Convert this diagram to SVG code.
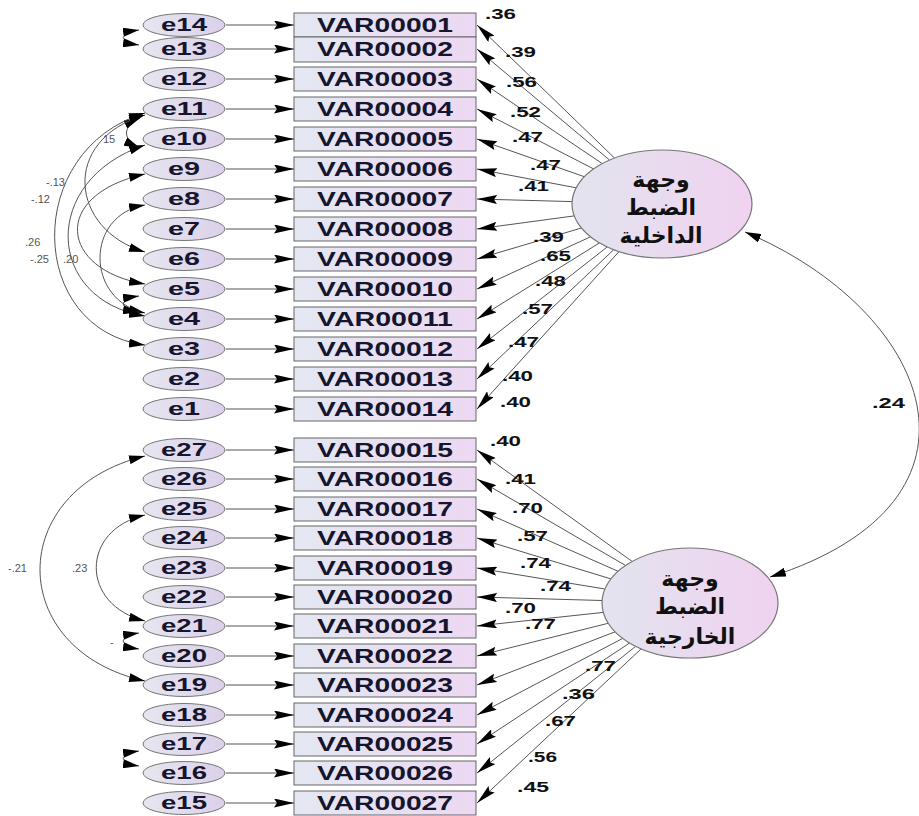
<svg xmlns="http://www.w3.org/2000/svg" width="919" height="816" viewBox="0 0 919 816">
<defs>
<linearGradient id="gBox" x1="0" y1="0" x2="1" y2="0"><stop offset="0" stop-color="#e4e8f2"/><stop offset="1" stop-color="#ecd8f2"/></linearGradient>
<linearGradient id="gErr" x1="0" y1="0" x2="1" y2="0"><stop offset="0" stop-color="#e6e6f0"/><stop offset="1" stop-color="#dcd0ea"/></linearGradient>
<linearGradient id="gLat" x1="0" y1="0" x2="1" y2="0"><stop offset="0" stop-color="#e2e4ee"/><stop offset="1" stop-color="#f0d2f0"/></linearGradient>
<marker id="ah" viewBox="0 0 20 9" refX="20" refY="4.5" markerWidth="20" markerHeight="9" markerUnits="userSpaceOnUse" orient="auto"><path d="M0,0 L20,4.5 L0,9 L3,4.5 z" fill="#000"/></marker>
<marker id="ah2" viewBox="0 0 16 9" refX="16" refY="4.5" markerWidth="16" markerHeight="9" markerUnits="userSpaceOnUse" orient="auto-start-reverse"><path d="M0,0 L16,4.5 L0,9 z" fill="#000"/></marker>
</defs>
<style>
.box{fill:url(#gBox);stroke:#666;stroke-width:1}
.err{fill:url(#gErr);stroke:#777;stroke-width:1}
.lat{fill:url(#gLat);stroke:#777;stroke-width:1.2}
.vt{font-family:"Liberation Sans",Arial,sans-serif;font-weight:bold;font-size:20px;fill:#15152e;text-anchor:middle}
.et{font-family:"Liberation Sans",Arial,sans-serif;font-weight:bold;font-size:18px;fill:#15152e;text-anchor:middle}
.at{font-family:"DejaVu Sans","Noto Sans",sans-serif;font-weight:bold;font-size:22px;fill:#111;text-anchor:middle}
.ld{font-family:"Liberation Sans",Arial,sans-serif;font-weight:bold;font-size:15px;fill:#111}
.cv{font-family:"Liberation Sans",Arial,sans-serif;font-size:11px;fill:#555}
.ln{fill:none;stroke:#555;stroke-width:1;marker-end:url(#ah)}
.cov{fill:none;stroke:#555;stroke-width:1;marker-start:url(#ah2);marker-end:url(#ah2)}
</style>
<rect width="919" height="816" fill="#fff"/>

<g id="connectors">
<line class="ln" x1="226" y1="25" x2="294" y2="25"/>
<line class="ln" x1="226" y1="49" x2="294" y2="49"/>
<line class="ln" x1="226" y1="79" x2="294" y2="79"/>
<line class="ln" x1="226" y1="109" x2="294" y2="109"/>
<line class="ln" x1="226" y1="139" x2="294" y2="139"/>
<line class="ln" x1="226" y1="169" x2="294" y2="169"/>
<line class="ln" x1="226" y1="199" x2="294" y2="199"/>
<line class="ln" x1="226" y1="229" x2="294" y2="229"/>
<line class="ln" x1="226" y1="259" x2="294" y2="259"/>
<line class="ln" x1="226" y1="289" x2="294" y2="289"/>
<line class="ln" x1="226" y1="319" x2="294" y2="319"/>
<line class="ln" x1="226" y1="349" x2="294" y2="349"/>
<line class="ln" x1="226" y1="379" x2="294" y2="379"/>
<line class="ln" x1="226" y1="409" x2="294" y2="409"/>
<line class="ln" x1="226" y1="450" x2="294" y2="450"/>
<line class="ln" x1="226" y1="479" x2="294" y2="479"/>
<line class="ln" x1="226" y1="509" x2="294" y2="509"/>
<line class="ln" x1="226" y1="538" x2="294" y2="538"/>
<line class="ln" x1="226" y1="568" x2="294" y2="568"/>
<line class="ln" x1="226" y1="597" x2="294" y2="597"/>
<line class="ln" x1="226" y1="626" x2="294" y2="626"/>
<line class="ln" x1="226" y1="656" x2="294" y2="656"/>
<line class="ln" x1="226" y1="685" x2="294" y2="685"/>
<line class="ln" x1="226" y1="715" x2="294" y2="715"/>
<line class="ln" x1="226" y1="744" x2="294" y2="744"/>
<line class="ln" x1="226" y1="773" x2="294" y2="773"/>
<line class="ln" x1="226" y1="803" x2="294" y2="803"/>
<line class="ln" x1="614.6" y1="158.1" x2="477" y2="25"/>
<line class="ln" x1="609.6" y1="160.1" x2="477" y2="49"/>
<line class="ln" x1="602.2" y1="163.6" x2="477" y2="79"/>
<line class="ln" x1="593.6" y1="168.9" x2="477" y2="109"/>
<line class="ln" x1="584.3" y1="176.7" x2="477" y2="139"/>
<line class="ln" x1="576.2" y1="187.8" x2="477" y2="169"/>
<line class="ln" x1="572.1" y1="201.6" x2="477" y2="199"/>
<line class="ln" x1="574.2" y1="215.9" x2="477" y2="229"/>
<line class="ln" x1="581.4" y1="228.0" x2="477" y2="259"/>
<line class="ln" x1="590.5" y1="236.8" x2="477" y2="289"/>
<line class="ln" x1="599.5" y1="242.9" x2="477" y2="319"/>
<line class="ln" x1="607.3" y1="246.9" x2="477" y2="349"/>
<line class="ln" x1="613.8" y1="249.6" x2="477" y2="379"/>
<line class="ln" x1="619.1" y1="251.5" x2="477" y2="409"/>
<line class="ln" x1="632.2" y1="561.5" x2="477" y2="450"/>
<line class="ln" x1="625.6" y1="565.5" x2="477" y2="479"/>
<line class="ln" x1="618.1" y1="571.3" x2="477" y2="509"/>
<line class="ln" x1="610.9" y1="578.9" x2="477" y2="538"/>
<line class="ln" x1="604.9" y1="589.0" x2="477" y2="568"/>
<line class="ln" x1="602.1" y1="600.5" x2="477" y2="597"/>
<line class="ln" x1="603.3" y1="612.4" x2="477" y2="626"/>
<line class="ln" x1="608.2" y1="623.3" x2="477" y2="656"/>
<line class="ln" x1="615.1" y1="631.8" x2="477" y2="685"/>
<line class="ln" x1="622.7" y1="638.4" x2="477" y2="715"/>
<line class="ln" x1="629.6" y1="643.0" x2="477" y2="744"/>
<line class="ln" x1="635.7" y1="646.3" x2="477" y2="773"/>
<line class="ln" x1="641.2" y1="648.8" x2="477" y2="803"/>
<path class="cov" d="M745,232 C930,310 1010,500 770,577"/>
<path class="cov" d="M139,30 C118,33 118,42 139,45"/>
<path class="cov" d="M140,118 C122,126 122,140 140,148"/>
<path class="cov" d="M145,113 C22,150 27,330 145,345"/>
<path class="cov" d="M145,145 C40,180 45,300 145,316"/>
<path class="cov" d="M145,115 C60,140 70,230 145,252"/>
<path class="cov" d="M145,174 C50,195 60,270 145,284"/>
<path class="cov" d="M145,205 C85,215 85,300 145,313"/>
<path class="cov" d="M139,296 C118,299 118,309 139,312"/>
<path class="cov" d="M145,456 C5,490 5,650 145,681"/>
<path class="cov" d="M145,515 C80,530 80,605 145,621"/>
<path class="cov" d="M139,633 C118,636 118,646 139,649"/>
<path class="cov" d="M139,751 C118,754 118,763 139,766"/>
</g>

<g id="labels">
<text class="ld" x="485" y="19" textLength="31" lengthAdjust="spacingAndGlyphs">.36</text>
<text class="ld" x="505" y="57" textLength="31" lengthAdjust="spacingAndGlyphs">.39</text>
<text class="ld" x="506" y="87" textLength="31" lengthAdjust="spacingAndGlyphs">.56</text>
<text class="ld" x="510" y="117" textLength="31" lengthAdjust="spacingAndGlyphs">.52</text>
<text class="ld" x="512" y="142" textLength="31" lengthAdjust="spacingAndGlyphs">.47</text>
<text class="ld" x="530" y="170" textLength="31" lengthAdjust="spacingAndGlyphs">.47</text>
<text class="ld" x="518" y="191" textLength="31" lengthAdjust="spacingAndGlyphs">.41</text>
<text class="ld" x="533" y="242" textLength="31" lengthAdjust="spacingAndGlyphs">.39</text>
<text class="ld" x="540" y="261" textLength="31" lengthAdjust="spacingAndGlyphs">.65</text>
<text class="ld" x="535" y="286" textLength="31" lengthAdjust="spacingAndGlyphs">.48</text>
<text class="ld" x="522" y="314" textLength="31" lengthAdjust="spacingAndGlyphs">.57</text>
<text class="ld" x="508" y="347" textLength="31" lengthAdjust="spacingAndGlyphs">.47</text>
<text class="ld" x="502" y="381" textLength="31" lengthAdjust="spacingAndGlyphs">.40</text>
<text class="ld" x="500" y="407" textLength="31" lengthAdjust="spacingAndGlyphs">.40</text>
<text class="ld" x="490" y="446" textLength="31" lengthAdjust="spacingAndGlyphs">.40</text>
<text class="ld" x="505" y="484" textLength="31" lengthAdjust="spacingAndGlyphs">.41</text>
<text class="ld" x="512" y="513" textLength="31" lengthAdjust="spacingAndGlyphs">.70</text>
<text class="ld" x="517" y="541" textLength="31" lengthAdjust="spacingAndGlyphs">.57</text>
<text class="ld" x="520" y="568" textLength="31" lengthAdjust="spacingAndGlyphs">.74</text>
<text class="ld" x="540" y="591" textLength="31" lengthAdjust="spacingAndGlyphs">.74</text>
<text class="ld" x="505" y="613" textLength="31" lengthAdjust="spacingAndGlyphs">.70</text>
<text class="ld" x="525" y="629" textLength="31" lengthAdjust="spacingAndGlyphs">.77</text>
<text class="ld" x="585" y="671" textLength="31" lengthAdjust="spacingAndGlyphs">.77</text>
<text class="ld" x="562" y="699" textLength="33" lengthAdjust="spacingAndGlyphs">.36</text>
<text class="ld" x="545" y="726" textLength="31" lengthAdjust="spacingAndGlyphs">.67</text>
<text class="ld" x="528" y="762" textLength="29" lengthAdjust="spacingAndGlyphs">.56</text>
<text class="ld" x="517" y="792" textLength="32" lengthAdjust="spacingAndGlyphs">.45</text>
<text class="ld" x="872" y="408" textLength="33" lengthAdjust="spacingAndGlyphs">.24</text>
<text class="cv" x="103" y="143">15</text>
<text class="cv" x="46" y="186">-.13</text>
<text class="cv" x="31" y="203">-.12</text>
<text class="cv" x="25" y="246">.26</text>
<text class="cv" x="30" y="263">-.25</text>
<text class="cv" x="63" y="263">.20</text>
<text class="cv" x="8" y="572">-.21</text>
<text class="cv" x="72" y="572">.23</text>
<text class="cv" x="110" y="646">-</text>
</g>

<g id="e14"><ellipse class="err" cx="184" cy="25" rx="41" ry="11.5"/><text class="et" x="184" y="31" textLength="46" lengthAdjust="spacingAndGlyphs">e14</text></g>
<g id="e13"><ellipse class="err" cx="184" cy="49" rx="41" ry="11.5"/><text class="et" x="184" y="55" textLength="46" lengthAdjust="spacingAndGlyphs">e13</text></g>
<g id="e12"><ellipse class="err" cx="184" cy="79" rx="41" ry="11.5"/><text class="et" x="184" y="85" textLength="46" lengthAdjust="spacingAndGlyphs">e12</text></g>
<g id="e11"><ellipse class="err" cx="184" cy="109" rx="41" ry="11.5"/><text class="et" x="184" y="115" textLength="46" lengthAdjust="spacingAndGlyphs">e11</text></g>
<g id="e10"><ellipse class="err" cx="184" cy="139" rx="41" ry="11.5"/><text class="et" x="184" y="145" textLength="46" lengthAdjust="spacingAndGlyphs">e10</text></g>
<g id="e9"><ellipse class="err" cx="184" cy="169" rx="41" ry="11.5"/><text class="et" x="184" y="175" textLength="32" lengthAdjust="spacingAndGlyphs">e9</text></g>
<g id="e8"><ellipse class="err" cx="184" cy="199" rx="41" ry="11.5"/><text class="et" x="184" y="205" textLength="32" lengthAdjust="spacingAndGlyphs">e8</text></g>
<g id="e7"><ellipse class="err" cx="184" cy="229" rx="41" ry="11.5"/><text class="et" x="184" y="235" textLength="32" lengthAdjust="spacingAndGlyphs">e7</text></g>
<g id="e6"><ellipse class="err" cx="184" cy="259" rx="41" ry="11.5"/><text class="et" x="184" y="265" textLength="32" lengthAdjust="spacingAndGlyphs">e6</text></g>
<g id="e5"><ellipse class="err" cx="184" cy="289" rx="41" ry="11.5"/><text class="et" x="184" y="295" textLength="32" lengthAdjust="spacingAndGlyphs">e5</text></g>
<g id="e4"><ellipse class="err" cx="184" cy="319" rx="41" ry="11.5"/><text class="et" x="184" y="325" textLength="32" lengthAdjust="spacingAndGlyphs">e4</text></g>
<g id="e3"><ellipse class="err" cx="184" cy="349" rx="41" ry="11.5"/><text class="et" x="184" y="355" textLength="32" lengthAdjust="spacingAndGlyphs">e3</text></g>
<g id="e2"><ellipse class="err" cx="184" cy="379" rx="41" ry="11.5"/><text class="et" x="184" y="385" textLength="32" lengthAdjust="spacingAndGlyphs">e2</text></g>
<g id="e1"><ellipse class="err" cx="184" cy="409" rx="41" ry="11.5"/><text class="et" x="184" y="415" textLength="32" lengthAdjust="spacingAndGlyphs">e1</text></g>
<g id="e27"><ellipse class="err" cx="184" cy="450" rx="41" ry="11.5"/><text class="et" x="184" y="456" textLength="46" lengthAdjust="spacingAndGlyphs">e27</text></g>
<g id="e26"><ellipse class="err" cx="184" cy="479" rx="41" ry="11.5"/><text class="et" x="184" y="485" textLength="46" lengthAdjust="spacingAndGlyphs">e26</text></g>
<g id="e25"><ellipse class="err" cx="184" cy="509" rx="41" ry="11.5"/><text class="et" x="184" y="515" textLength="46" lengthAdjust="spacingAndGlyphs">e25</text></g>
<g id="e24"><ellipse class="err" cx="184" cy="538" rx="41" ry="11.5"/><text class="et" x="184" y="544" textLength="46" lengthAdjust="spacingAndGlyphs">e24</text></g>
<g id="e23"><ellipse class="err" cx="184" cy="568" rx="41" ry="11.5"/><text class="et" x="184" y="574" textLength="46" lengthAdjust="spacingAndGlyphs">e23</text></g>
<g id="e22"><ellipse class="err" cx="184" cy="597" rx="41" ry="11.5"/><text class="et" x="184" y="603" textLength="46" lengthAdjust="spacingAndGlyphs">e22</text></g>
<g id="e21"><ellipse class="err" cx="184" cy="626" rx="41" ry="11.5"/><text class="et" x="184" y="632" textLength="46" lengthAdjust="spacingAndGlyphs">e21</text></g>
<g id="e20"><ellipse class="err" cx="184" cy="656" rx="41" ry="11.5"/><text class="et" x="184" y="662" textLength="46" lengthAdjust="spacingAndGlyphs">e20</text></g>
<g id="e19"><ellipse class="err" cx="184" cy="685" rx="41" ry="11.5"/><text class="et" x="184" y="691" textLength="46" lengthAdjust="spacingAndGlyphs">e19</text></g>
<g id="e18"><ellipse class="err" cx="184" cy="715" rx="41" ry="11.5"/><text class="et" x="184" y="721" textLength="46" lengthAdjust="spacingAndGlyphs">e18</text></g>
<g id="e17"><ellipse class="err" cx="184" cy="744" rx="41" ry="11.5"/><text class="et" x="184" y="750" textLength="46" lengthAdjust="spacingAndGlyphs">e17</text></g>
<g id="e16"><ellipse class="err" cx="184" cy="773" rx="41" ry="11.5"/><text class="et" x="184" y="779" textLength="46" lengthAdjust="spacingAndGlyphs">e16</text></g>
<g id="e15"><ellipse class="err" cx="184" cy="803" rx="41" ry="11.5"/><text class="et" x="184" y="809" textLength="46" lengthAdjust="spacingAndGlyphs">e15</text></g>

<g id="VAR00001"><rect class="box" x="294" y="13" width="182" height="24"/><text class="vt" x="385" y="32" textLength="136" lengthAdjust="spacingAndGlyphs">VAR00001</text></g>
<g id="VAR00002"><rect class="box" x="294" y="37" width="182" height="25"/><text class="vt" x="385" y="56" textLength="136" lengthAdjust="spacingAndGlyphs">VAR00002</text></g>
<g id="VAR00003"><rect class="box" x="294" y="67" width="182" height="24"/><text class="vt" x="385" y="86" textLength="136" lengthAdjust="spacingAndGlyphs">VAR00003</text></g>
<g id="VAR00004"><rect class="box" x="294" y="97" width="182" height="24"/><text class="vt" x="385" y="116" textLength="136" lengthAdjust="spacingAndGlyphs">VAR00004</text></g>
<g id="VAR00005"><rect class="box" x="294" y="127" width="182" height="24"/><text class="vt" x="385" y="146" textLength="136" lengthAdjust="spacingAndGlyphs">VAR00005</text></g>
<g id="VAR00006"><rect class="box" x="294" y="157" width="182" height="24"/><text class="vt" x="385" y="176" textLength="136" lengthAdjust="spacingAndGlyphs">VAR00006</text></g>
<g id="VAR00007"><rect class="box" x="294" y="187" width="182" height="24"/><text class="vt" x="385" y="206" textLength="136" lengthAdjust="spacingAndGlyphs">VAR00007</text></g>
<g id="VAR00008"><rect class="box" x="294" y="217" width="182" height="24"/><text class="vt" x="385" y="236" textLength="136" lengthAdjust="spacingAndGlyphs">VAR00008</text></g>
<g id="VAR00009"><rect class="box" x="294" y="247" width="182" height="24"/><text class="vt" x="385" y="266" textLength="136" lengthAdjust="spacingAndGlyphs">VAR00009</text></g>
<g id="VAR00010"><rect class="box" x="294" y="277" width="182" height="24"/><text class="vt" x="385" y="296" textLength="136" lengthAdjust="spacingAndGlyphs">VAR00010</text></g>
<g id="VAR00011"><rect class="box" x="294" y="307" width="182" height="24"/><text class="vt" x="385" y="326" textLength="136" lengthAdjust="spacingAndGlyphs">VAR00011</text></g>
<g id="VAR00012"><rect class="box" x="294" y="337" width="182" height="24"/><text class="vt" x="385" y="356" textLength="136" lengthAdjust="spacingAndGlyphs">VAR00012</text></g>
<g id="VAR00013"><rect class="box" x="294" y="367" width="182" height="24"/><text class="vt" x="385" y="386" textLength="136" lengthAdjust="spacingAndGlyphs">VAR00013</text></g>
<g id="VAR00014"><rect class="box" x="294" y="397" width="182" height="24"/><text class="vt" x="385" y="416" textLength="136" lengthAdjust="spacingAndGlyphs">VAR00014</text></g>
<g id="VAR00015"><rect class="box" x="294" y="438" width="182" height="24"/><text class="vt" x="385" y="457" textLength="136" lengthAdjust="spacingAndGlyphs">VAR00015</text></g>
<g id="VAR00016"><rect class="box" x="294" y="467" width="182" height="24"/><text class="vt" x="385" y="486" textLength="136" lengthAdjust="spacingAndGlyphs">VAR00016</text></g>
<g id="VAR00017"><rect class="box" x="294" y="497" width="182" height="24"/><text class="vt" x="385" y="516" textLength="136" lengthAdjust="spacingAndGlyphs">VAR00017</text></g>
<g id="VAR00018"><rect class="box" x="294" y="526" width="182" height="24"/><text class="vt" x="385" y="545" textLength="136" lengthAdjust="spacingAndGlyphs">VAR00018</text></g>
<g id="VAR00019"><rect class="box" x="294" y="556" width="182" height="24"/><text class="vt" x="385" y="575" textLength="136" lengthAdjust="spacingAndGlyphs">VAR00019</text></g>
<g id="VAR00020"><rect class="box" x="294" y="585" width="182" height="24"/><text class="vt" x="385" y="604" textLength="136" lengthAdjust="spacingAndGlyphs">VAR00020</text></g>
<g id="VAR00021"><rect class="box" x="294" y="614" width="182" height="24"/><text class="vt" x="385" y="633" textLength="136" lengthAdjust="spacingAndGlyphs">VAR00021</text></g>
<g id="VAR00022"><rect class="box" x="294" y="644" width="182" height="24"/><text class="vt" x="385" y="663" textLength="136" lengthAdjust="spacingAndGlyphs">VAR00022</text></g>
<g id="VAR00023"><rect class="box" x="294" y="673" width="182" height="24"/><text class="vt" x="385" y="692" textLength="136" lengthAdjust="spacingAndGlyphs">VAR00023</text></g>
<g id="VAR00024"><rect class="box" x="294" y="703" width="182" height="24"/><text class="vt" x="385" y="722" textLength="136" lengthAdjust="spacingAndGlyphs">VAR00024</text></g>
<g id="VAR00025"><rect class="box" x="294" y="732" width="182" height="24"/><text class="vt" x="385" y="751" textLength="136" lengthAdjust="spacingAndGlyphs">VAR00025</text></g>
<g id="VAR00026"><rect class="box" x="294" y="761" width="182" height="24"/><text class="vt" x="385" y="780" textLength="136" lengthAdjust="spacingAndGlyphs">VAR00026</text></g>
<g id="VAR00027"><rect class="box" x="294" y="791" width="182" height="24"/><text class="vt" x="385" y="810" textLength="136" lengthAdjust="spacingAndGlyphs">VAR00027</text></g>

<g id="internal"><ellipse class="lat" cx="662" cy="204" rx="90" ry="54"/>
<text class="at" x="661" y="187">وجهة</text>
<text class="at" x="661" y="215">الضبط</text>
<text class="at" x="661" y="243">الداخلية</text></g>
<g id="external"><ellipse class="lat" cx="690" cy="603" rx="88" ry="55"/>
<text class="at" x="690" y="586">وجهة</text>
<text class="at" x="690" y="614">الضبط</text>
<text class="at" x="690" y="644">الخارجية</text></g>
</svg>
